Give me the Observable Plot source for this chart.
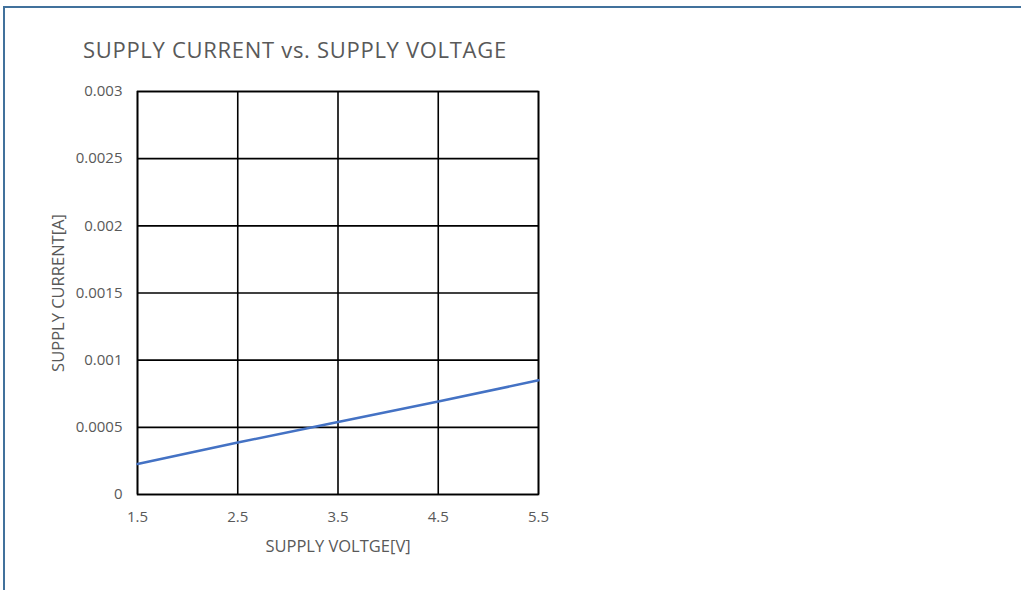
<!DOCTYPE html>
<html>
<head>
<meta charset="utf-8">
<script src="https://cdn.jsdelivr.net/npm/d3@7"></script>
<script src="https://cdn.jsdelivr.net/npm/@observablehq/plot@0.6"></script>
<style>
  html, body { margin: 0; padding: 0; background: #fff; }
  #wrap { position: relative; width: 1021px; height: 590px; overflow: hidden; font-family: "Open Sans", "Noto Sans", sans-serif; }
  #edgeTop { position: absolute; left: 3px; top: 6px; width: 1018px; height: 2px; background: #41719C; }
  #edgeLeft { position: absolute; left: 3px; top: 6px; width: 2px; height: 584px; background: #41719C; }
  #title { position: absolute; left: 83px; top: 34px; font-size: 22px; line-height: 30px; color: #595959; white-space: nowrap; letter-spacing: 0.7px; }
  #chart { position: absolute; left: 0; top: 0; }
</style>
</head>
<body>
<div id="wrap">
  <div id="edgeTop"></div>
  <div id="edgeLeft"></div>
  <div id="title">SUPPLY CURRENT vs. SUPPLY VOLTAGE</div>
  <div id="chart"></div>
</div>
<script>
const voltage = [1.5, 2.5, 3.5, 4.5, 5.5];
const current = [0.000227, 0.000387, 0.00054, 0.000692, 0.00085];
const xTicks = [1.5, 2.5, 3.5, 4.5, 5.5];
const yTicks = [0, 0.0005, 0.001, 0.0015, 0.002, 0.0025, 0.003];
const xTickLabels = ["1.5", "2.5", "3.5", "4.5", "5.5"];
const yTickLabels = ["0", "0.0005", "0.001", "0.0015", "0.002", "0.0025", "0.003"];
const xAxisTitle = "SUPPLY VOLTGE[V]";
const yAxisTitle = "SUPPLY CURRENT[A]";

const data = voltage.map((v, i) => ({v, c: current[i]}));

const chart = Plot.plot({
  width: 1021,
  height: 590,
  marginLeft: 137,
  marginRight: 483,
  marginTop: 91,
  marginBottom: 96,
  style: {fontFamily: "'Open Sans', 'Noto Sans', sans-serif", color: "#595959", background: "transparent"},
  x: {domain: [1.5, 5.5], label: null},
  y: {domain: [0, 0.003], label: null},
  marks: [
    Plot.gridX(xTicks, {stroke: "#000", strokeOpacity: 1, strokeWidth: 1.6}),
    Plot.gridY(yTicks, {stroke: "#000", strokeOpacity: 1, strokeWidth: 1.6}),
    Plot.frame({stroke: "#000", strokeWidth: 1.6}),
    Plot.line(data, {x: "v", y: "c", stroke: "#4472C4", strokeWidth: 2.5}),
    Plot.axisX({ticks: xTicks, tickFormat: (d, i) => xTickLabels[i], tickSize: 0, tickPadding: 17, fill: "#595959", fontSize: 15, label: null}),
    Plot.axisY({ticks: yTicks, tickFormat: (d, i) => yTickLabels[i], tickSize: 0, tickPadding: 15, fill: "#595959", fontSize: 15, label: null}),
    Plot.text([xAxisTitle], {text: d => d, frameAnchor: "bottom", dy: 57, fontSize: 16.5, fill: "#595959"}),
    Plot.text([yAxisTitle], {text: d => d, frameAnchor: "left", textAnchor: "middle", rotate: -90, dx: -78.5, fontSize: 16.5, fill: "#595959"})
  ]
});
document.getElementById("chart").appendChild(chart);
</script>
</body>
</html>
